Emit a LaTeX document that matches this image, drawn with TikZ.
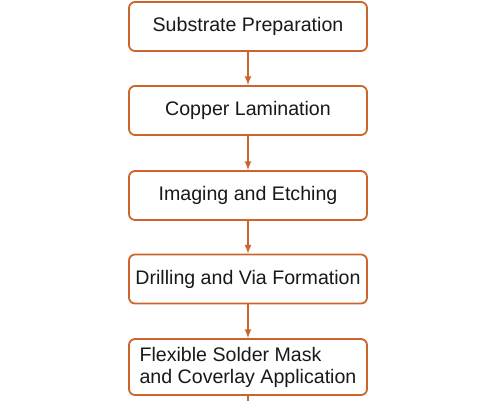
\documentclass[tikz,border=0pt]{standalone}
\usepackage{fontspec}
\setmainfont{Liberation Sans}
\usepackage{tikz}
\usetikzlibrary{arrows}
\tikzset{>=latex}
\definecolor{flexorange}{RGB}{205,100,45}
\definecolor{textgray}{RGB}{25,25,25}
\tikzset{stepbox/.style={draw=flexorange, line width=1.8pt, rectangle, rounded corners=6pt, fill=white, minimum width=238pt, minimum height=49pt, text=textgray, font=\fontsize{19.6}{22}\selectfont}}
\tikzset{flow/.style={->, draw=flexorange, line width=2pt}}

\begin{document}
\begin{tikzpicture}[x=1pt,y=1pt]
    \useasboundingbox (0,0) rectangle (495,-400);
    \node [stepbox](sub) at (248,-26.5){Substrate Preparation};
    \node [stepbox](cop) at (248,-110.5){Copper Lamination};
    \node [stepbox](img) at (248,-195.5){Imaging and Etching};
    \node [stepbox](dri) at (248,-279){Drilling and Via Formation};
    \node [stepbox, minimum height=56pt, align=left](mask) at (248,-367){Flexible Solder Mask\\and Coverlay Application};
    \coordinate (out) at (248,-420);
    \draw [flow] (sub) -- (cop);
    \draw [flow] (cop) -- (img);
    \draw [flow] (img) -- (dri);
    \draw [flow] (dri) -- (mask);
    \draw [flow] (mask) -- (out);
  \end{tikzpicture}
\end{document}
